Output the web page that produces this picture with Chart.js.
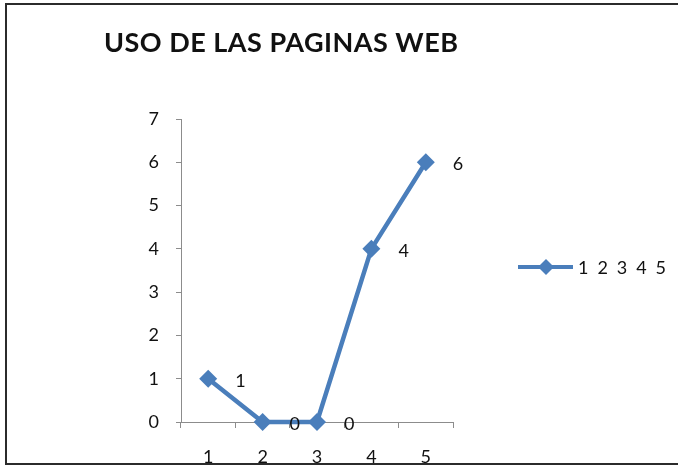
<!DOCTYPE html>
<html>
<head>
<meta charset="utf-8">
<script src="https://cdn.jsdelivr.net/npm/chart.js@4.4.1/dist/chart.umd.min.js"></script>
<style>
  html, body { margin: 0; padding: 0; background: #fff; }
  #wrap { width: 678px; height: 465px; }
</style>
</head>
<body>
<div id="wrap"><canvas id="myChart" width="678" height="465"></canvas></div>
<script>
const titleText = 'USO DE LAS PAGINAS WEB';
const categories = ['1', '2', '3', '4', '5'];
const usoValues = [1, 0, 0, 4, 6];
const seriesName = '1 2 3 4 5';
const yTicks = [0, 1, 2, 3, 4, 5, 6, 7];

const blue = '#4a7ebb';
const axisGray = '#8c8c8c';
const font = 'Lato, "Liberation Sans", sans-serif';

// texto estirado hasta un ancho dado
function fillSpread(c, text, x, y, width) {
  c.letterSpacing = '0px';
  const w = c.measureText(text).width;
  const sp = Math.max(0, (width - w) / (text.length - 1));
  c.letterSpacing = sp + 'px';
  c.fillText(text, x, y);
  c.letterSpacing = '0px';
}

// titulo, leyenda, etiquetas y marco
const extras = {
  id: 'extras',
  afterDatasetsDraw(chart) {
    const c = chart.ctx;
    const meta = chart.getDatasetMeta(0);
    c.save();
    c.fillStyle = '#111';
    c.font = '18px ' + font;
    c.textAlign = 'left';
    c.textBaseline = 'middle';
    meta.data.forEach((pt, i) => {
      c.fillText(String(usoValues[i]), pt.x + 27, pt.y + 2);
    });

    // titulo
    c.font = 'bold 27px ' + font;
    c.textBaseline = 'alphabetic';
    c.lineWidth = 0.6;
    c.strokeStyle = '#111';
    fillSpread(c, titleText, 104, 52, 354);
    c.letterSpacing = c.letterSpacing;

    // leyenda
    const ly = 267;
    c.strokeStyle = blue;
    c.lineWidth = 4;
    c.beginPath();
    c.moveTo(518, ly);
    c.lineTo(573, ly);
    c.stroke();
    c.fillStyle = blue;
    c.beginPath();
    c.moveTo(546, ly - 8);
    c.lineTo(554, ly);
    c.lineTo(546, ly + 8);
    c.lineTo(538, ly);
    c.closePath();
    c.fill();
    c.fillStyle = '#111';
    c.font = '18px ' + font;
    c.textBaseline = 'middle';
    fillSpread(c, seriesName, 578, ly + 1, 88);

    // marco
    c.strokeStyle = '#2b2b2b';
    c.lineWidth = 2;
    c.beginPath();
    c.moveTo(690, 4);
    c.lineTo(6, 4);
    c.lineTo(6, 464);
    c.lineTo(690, 464);
    c.stroke();
    c.restore();
  }
};

new Chart(document.getElementById('myChart'), {
  type: 'line',
  data: {
    labels: categories,
    datasets: [{
      label: seriesName,
      data: usoValues,
      borderColor: blue,
      backgroundColor: blue,
      borderWidth: 4.5,
      pointStyle: 'rectRot',
      pointRadius: 9,
      pointHoverRadius: 9,
      pointBorderWidth: 0,
      tension: 0,
      clip: false
    }]
  },
  options: {
    responsive: false,
    animation: false,
    events: [],
    layout: { padding: { left: 0, top: 119, right: 225, bottom: 0 } },
    plugins: {
      legend: { display: false },
      title: { display: false },
      tooltip: { enabled: false }
    },
    scales: {
      x: {
        offset: true,
        grid: { offset: true, drawOnChartArea: false, drawTicks: true, tickLength: 6, color: axisGray },
        border: { display: true, color: axisGray, width: 1 },
        ticks: { color: '#111', font: { family: font, size: 18 }, padding: 18, maxRotation: 0 },
        afterFit(s) { s.height = 43; }
      },
      y: {
        min: 0,
        max: 7,
        afterBuildTicks(s) { s.ticks = yTicks.map(v => ({ value: v })); },
        grid: { drawOnChartArea: false, drawTicks: true, tickLength: 5, color: axisGray },
        border: { display: true, color: axisGray, width: 1 },
        ticks: { color: '#111', font: { family: font, size: 18 }, padding: 17 },
        afterFit(s) { s.width = 181; }
      }
    }
  },
  plugins: [extras]
});
</script>
</body>
</html>
